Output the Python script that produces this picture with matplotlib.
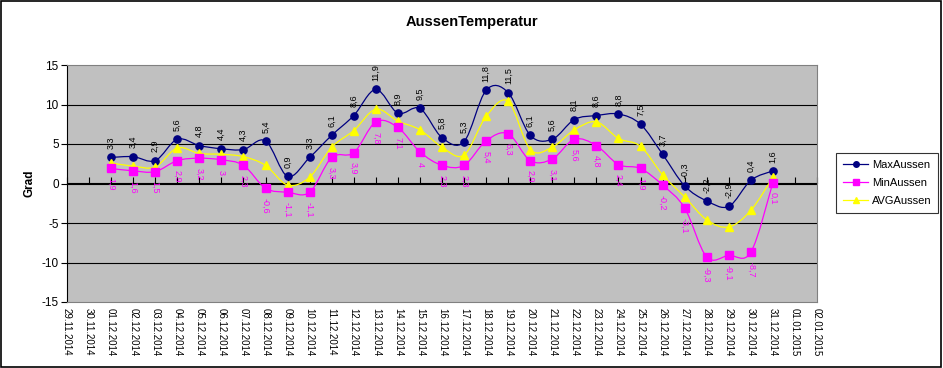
import numpy as np
import matplotlib
matplotlib.use("Agg")
import matplotlib.pyplot as plt
from matplotlib.path import Path
from matplotlib.patches import PathPatch, Rectangle
from matplotlib.lines import Line2D

plt.rcParams['font.family'] = ['Liberation Sans', 'DejaVu Sans']
plt.rcParams['axes.unicode_minus'] = False

# categories on the date axis
dates = ['29.11.2014', '30.11.2014'] + ['%02d.12.2014' % d for d in range(1, 32)] + ['01.01.2015', '02.01.2015']

# measured values, 01.12 - 31.12
max_aussen = [3.3, 3.4, 2.9, 5.6, 4.8, 4.4, 4.3, 5.4, 0.9, 3.3, 6.1, 8.6, 11.9, 8.9, 9.5, 5.8,
              5.3, 11.8, 11.5, 6.1, 5.6, 8.1, 8.6, 8.8, 7.5, 3.7, -0.3, -2.2, -2.9, 0.4, 1.6]
min_aussen = [1.9, 1.6, 1.5, 2.9, 3.2, 3.0, 2.3, -0.6, -1.1, -1.1, 3.3, 3.9, 7.8, 7.1, 4.0, 2.3,
              2.3, 5.4, 6.3, 2.9, 3.1, 5.6, 4.8, 2.4, 1.9, -0.2, -3.1, -9.3, -9.1, -8.7, 0.1]
avg_aussen = [2.6, 2.2, 2.1, 4.5, 3.8, 3.7, 3.4, 2.3, -0.2, 0.8, 4.6, 6.7, 9.4, 7.9, 6.8, 4.6,
              3.6, 8.5, 10.4, 4.3, 4.6, 6.8, 7.8, 5.7, 4.7, 1.1, -1.7, -4.6, -5.5, -3.4, 0.8]

first = dates.index('01.12.2014')
xs = np.arange(first, first + len(max_aussen))

C_MAX = '#000080'
C_MIN = '#ff00ff'
C_AVG = '#ffff00'


def smooth_path(x, y):
    # excel-like smoothed line: catmull-rom segments as cubic beziers
    pts = np.column_stack([x, y]).astype(float)
    p = np.vstack([pts[0], pts, pts[-1]])
    verts = [pts[0]]
    codes = [Path.MOVETO]
    for i in range(1, len(p) - 2):
        c1 = p[i] + (p[i + 1] - p[i - 1]) / 6
        c2 = p[i + 1] - (p[i + 2] - p[i]) / 6
        verts += [c1, c2, p[i + 1]]
        codes += [Path.CURVE4] * 3
    return Path(verts, codes)


fig = plt.figure(figsize=(9.43, 3.68), dpi=100)
ax = fig.add_axes([67 / 943, 1 - 302 / 368, 750 / 943, 237 / 368])
ax.set_facecolor('#c0c0c0')

for vals, col, mk, ms in [(max_aussen, C_MAX, 'o', 5.2),
                          (avg_aussen, C_AVG, '^', 5.8),
                          (min_aussen, C_MIN, 's', 5.2)]:
    ax.add_patch(PathPatch(smooth_path(xs, vals), facecolor='none', edgecolor=col, lw=0.9, zorder=3))
    ax.plot(xs, vals, linestyle='none', marker=mk, markersize=ms, color=col,
            markeredgecolor=col, zorder=4)

def fmt(v):
    return ('%g' % v).replace('.', ',')

for x, v in zip(xs, max_aussen):
    ax.annotate(fmt(v), (x, v), xytext=(0, 6), textcoords='offset points', rotation=90,
                ha='center', va='bottom', fontsize=6.5, color='black', annotation_clip=False)
for x, v in zip(xs, min_aussen):
    ax.annotate(fmt(v), (x, v), xytext=(0, -7), textcoords='offset points', rotation=270,
                ha='center', va='top', fontsize=6.5, color=C_MIN, annotation_clip=False)

ax.set_xlim(0, len(dates) - 1)
ax.set_ylim(-15, 15)
ax.set_yticks(np.arange(-15, 16, 5))
ax.tick_params(axis='y', direction='out', length=4, width=0.8, labelsize=8.5, pad=2)
ax.set_xticks(np.arange(len(dates)))
ax.set_xticklabels(dates, rotation=270, fontsize=7)
ax.tick_params(axis='x', length=0, pad=4)

ax.yaxis.grid(True, color='black', lw=0.8)
gl = ax.get_ygridlines()
gl[0].set_visible(False)
gl[-1].set_visible(False)
ax.set_axisbelow(True)

for s in ['top', 'right', 'bottom']:
    ax.spines[s].set_color('#808080')
    ax.spines[s].set_linewidth(0.8)
ax.spines['left'].set_color('black')
ax.spines['left'].set_linewidth(0.8)

# category axis crossing at 0
sec = ax.secondary_xaxis(0.5)
sec.set_xticks(np.arange(len(dates)))
sec.set_xticklabels([])
sec.tick_params(direction='out', length=4, width=0.8)
sec.spines['bottom'].set_color('black')
sec.spines['bottom'].set_linewidth(0.8)

fig.text(0.5, 1 - 22 / 368, 'AussenTemperatur', ha='center', va='center', fontsize=10.5, fontweight='bold')
fig.text(30 / 943, 1 - 183 / 368, 'Grad', ha='center', va='center', rotation=90, fontsize=8.5, fontweight='bold')

handles = [Line2D([], [], color=C_MAX, lw=0.9, marker='o', markersize=4),
           Line2D([], [], color=C_MIN, lw=0.9, marker='s', markersize=4),
           Line2D([], [], color=C_AVG, lw=0.9, marker='^', markersize=4)]
leg = fig.legend(handles, ['MaxAussen', 'MinAussen', 'AVGAussen'], loc='center',
                 bbox_to_anchor=(836 / 943, 1 - 213 / 368, 102 / 943, 60 / 368),
                 bbox_transform=fig.transFigure, fontsize=8, frameon=True, fancybox=False,
                 handlelength=2.3, handletextpad=0.3, labelspacing=0.75, borderpad=0.6)
leg.get_frame().set_edgecolor('black')
leg.get_frame().set_linewidth(0.8)

fig.patches.append(Rectangle((0.001, 0.002), 0.997, 0.996, transform=fig.transFigure,
                             fill=False, edgecolor='black', lw=1.2))

fig.savefig('out.png', dpi=100)
